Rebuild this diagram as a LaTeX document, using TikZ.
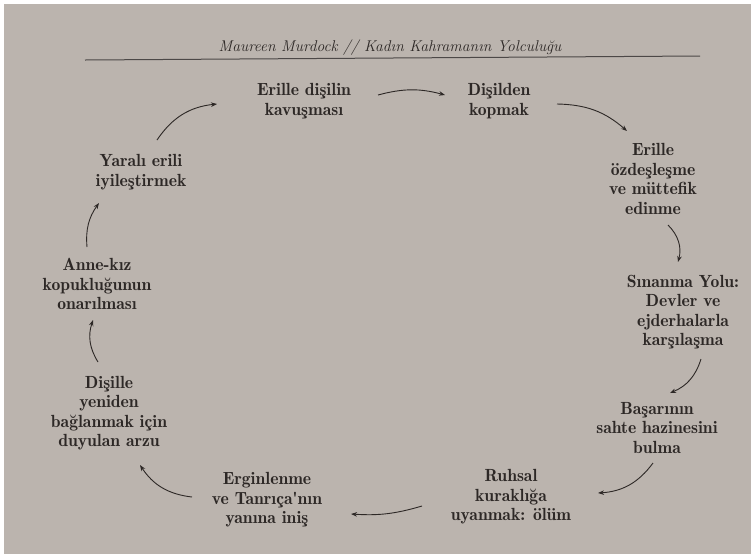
\documentclass[tikz,border=0pt]{standalone}
\usepackage{fontspec}
\setmainfont{Latin Modern Roman}
\newfontfamily\demifont{Latin Modern Roman Demi}
\usetikzlibrary{arrows.meta}
\definecolor{page}{RGB}{187,180,174}
\definecolor{ink}{RGB}{45,40,38}
\tikzset{
    stage/.style={align=center, inner sep=0pt, text=ink, font=\demifont\fontsize{17.6}{19.5}\selectfont},
    arr/.style={-{Stealth[length=6pt, width=4.5pt]}, draw=ink, line width=0.9pt},
    runhead/.style={text=ink, font=\itshape\fontsize{15.6}{18}\selectfont},
}
\begin{document}
\begin{tikzpicture}[x=1pt, y=-1pt]
    \useasboundingbox (0,0) rectangle (755,558);
    \fill[white] (0,0) rectangle (755,558);
    \fill[page] (4,4) rectangle (751,554);

    % running head
    \node[runhead] (head) at (390,48) {Maureen Murdock // Kadın Kahramanın Yolculuğu};
    \draw[ink!85, line width=1pt] (85,60) -- (700,56);

    % stages of the journey
    \node[stage] (s1) at (304,101) {Erille dişilin\\kavuşması};
    \node[stage] (s2) at (499,101) {Dişilden\\kopmak};
    \node[stage] (s3) at (653,179) {Erille\\özdeşleşme\\ve müttefik\\edinme};
    \node[stage] (s4) at (683,312) {Sınanma Yolu:\\Devler ve\\ejderhalarla\\karşılaşma};
    \node[stage] (s5) at (657,428) {Başarının\\sahte hazinesini\\bulma};
    \node[stage] (s6) at (511,497) {Ruhsal\\kuraklığa\\uyanmak: ölüm};
    \node[stage] (s7) at (267,500) {Erginlenme\\ve Tanrıça'nın\\yanına iniş};
    \node[stage] (s8) at (109,413) {Dişille\\yeniden\\bağlanmak için\\duyulan arzu};
    \node[stage] (s9) at (97,284) {Anne-kız\\kopukluğunun\\onarılması};
    \node[stage] (s10) at (141,172) {Yaralı erili\\iyileştirmek};

    % the cycle
    \draw[arr] ([shift={(74,-6)}]s1.center) to[bend left=15] ([shift={(-54,-6)}]s2.center);
    \draw[arr] ([shift={(58,3)}]s2.center) to[bend left=20] ([shift={(-26,-48)}]s3.center);
    \draw[arr] ([shift={(15,46)}]s3.center) to[bend left=30] ([shift={(-5,-50)}]s4.center);
    \draw[arr] ([shift={(18,47)}]s4.center) to[bend left=25] ([shift={(13,-35)}]s5.center);
    \draw[arr] ([shift={(-4,35)}]s5.center) to[bend left=25] ([shift={(87,-4)}]s6.center);
    \draw[arr] ([shift={(-89,9)}]s6.center) to[bend left=10] ([shift={(84,14)}]s7.center);
    \draw[arr] ([shift={(-75,-3)}]s7.center) to[bend left=25] ([shift={(31,52)}]s8.center);
    \draw[arr] ([shift={(-11,-51)}]s8.center) to[bend left=25] ([shift={(-4,36)}]s9.center);
    \draw[arr] ([shift={(-10,-37)}]s9.center) to[bend left=20] ([shift={(-42,31)}]s10.center);
    \draw[arr] ([shift={(16,-32)}]s10.center) to[bend left=25] ([shift={(-87,3)}]s1.center);
\end{tikzpicture}
\end{document}
